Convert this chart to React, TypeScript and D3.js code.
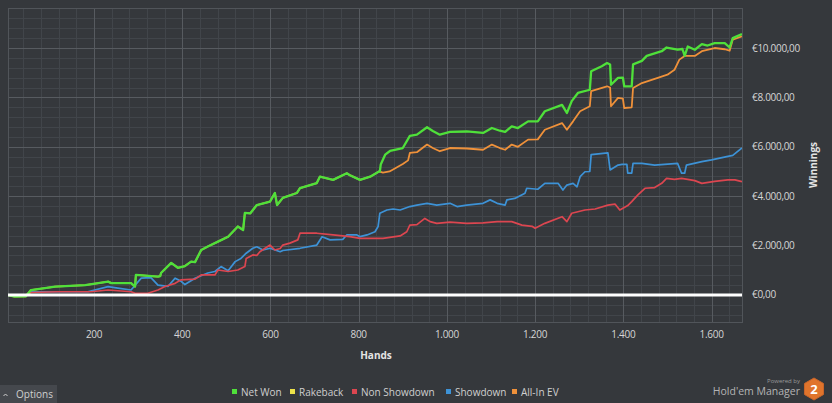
import React from "react";
import * as d3 from "d3";

type P = [number, number];

const seriesNames = ["Net Won", "Rakeback", "Non Showdown", "Showdown", "All-In EV"];
const seriesColors = ["#4fe03a", "#ece24a", "#dc4650", "#3d92d6", "#ef913a"];

const xTicks = [200, 400, 600, 800, 1000, 1200, 1400, 1600];
const yTicks = [0, 2000, 4000, 6000, 8000, 10000];

const netWon: P[] = [
  [5, 0], [20, -70], [45, -60], [57, 200], [112, 340], [180, 400], [232, 540], [239, 480], [284, 480],
  [293, 340], [295, 810], [345, 740], [350, 760], [352, 890], [375, 1300], [390, 1100], [406, 1170],
  [420, 1350], [429, 1330], [443, 1820], [458, 1960], [481, 2160], [504, 2360], [526, 2770], [538, 2630],
  [542, 3320], [554, 3300], [569, 3640], [599, 3780], [610, 4130], [615, 3640], [628, 3930], [660, 4130],
  [667, 4330], [705, 4530], [712, 4790], [742, 4660], [773, 4930], [780, 4850], [803, 4660], [826, 4790],
  [846, 5000], [848, 5000], [850, 5280], [860, 5680], [871, 5830], [900, 5950], [916, 6440], [932, 6490],
  [955, 6790], [968, 6640], [984, 6490], [1007, 6600], [1045, 6620], [1082, 6560], [1102, 6760], [1120, 6650],
  [1132, 6600], [1147, 6830], [1161, 6760], [1184, 7030], [1206, 7030], [1222, 7440], [1261, 7700],
  [1272, 7370], [1283, 7850], [1297, 8180], [1324, 8310], [1327, 9060], [1351, 9260], [1363, 9390],
  [1370, 9330], [1372, 8510], [1388, 8790], [1399, 8800], [1402, 8450], [1419, 8450], [1422, 9340],
  [1442, 9480], [1453, 9680], [1487, 9870], [1498, 10020], [1523, 9930], [1534, 9960], [1539, 9680],
  [1546, 10060], [1562, 9930], [1578, 10160], [1591, 10100], [1607, 10200], [1630, 10200], [1641, 10020],
  [1648, 10400], [1669, 10570],
];

const rakeback: P[] = [[5, 0], [1669, 0]];

const nonShowdown: P[] = [
  [5, 0], [50, 0], [57, 100], [118, 130], [193, 130], [232, 200], [284, 130], [293, 70], [322, 70],
  [345, 200], [361, 340], [384, 470], [397, 610], [429, 640], [443, 810], [474, 810], [481, 1010],
  [504, 950], [526, 1010], [542, 1150], [545, 1480], [560, 1620], [569, 1600], [576, 1750], [599, 2020],
  [610, 1820], [622, 1880], [628, 2020], [644, 2100], [662, 2230], [667, 2500], [705, 2500], [742, 2430],
  [780, 2360], [803, 2290], [855, 2290], [894, 2390], [909, 2560], [916, 2830], [932, 2850], [950, 3100],
  [962, 2970], [977, 2900], [1007, 2950], [1045, 2900], [1082, 2920], [1114, 2970], [1147, 2970],
  [1170, 2830], [1193, 2780], [1200, 2700], [1222, 2900], [1261, 3170], [1272, 2970], [1283, 3310],
  [1313, 3440], [1336, 3480], [1365, 3640], [1381, 3680], [1392, 3440], [1410, 3620], [1419, 3780],
  [1433, 4050], [1449, 4320], [1471, 4350], [1487, 4520], [1498, 4720], [1516, 4680], [1532, 4720],
  [1546, 4680], [1562, 4630], [1578, 4520], [1607, 4600], [1637, 4660], [1653, 4660], [1669, 4590],
];

const showdown: P[] = [
  [5, 0], [50, 0], [57, 130], [186, 130], [232, 340], [254, 280], [284, 200], [307, 680], [329, 700],
  [345, 400], [368, 350], [384, 680], [397, 560], [406, 420], [429, 680], [458, 890], [474, 950],
  [488, 1150], [504, 980], [520, 1350], [533, 1480], [545, 1690], [560, 1890], [569, 1950], [583, 1820],
  [599, 1890], [622, 1750], [628, 1800], [667, 1890], [705, 2020], [717, 2360], [735, 2230], [764, 2250],
  [773, 2430], [796, 2430], [803, 2360], [819, 2430], [837, 2560], [844, 2770], [848, 3310], [864, 3440],
  [878, 3480], [894, 3440], [916, 3580], [932, 3640], [955, 3710], [977, 3640], [1007, 3710], [1023, 3580],
  [1045, 3640], [1082, 3710], [1098, 3850], [1114, 3710], [1132, 3640], [1136, 3850], [1154, 3910],
  [1177, 4120], [1181, 4320], [1206, 4280], [1222, 4520], [1252, 4520], [1263, 4250], [1272, 4450],
  [1286, 4520], [1295, 4380], [1302, 4790], [1313, 4990], [1324, 5000], [1327, 5680], [1365, 5750],
  [1370, 5060], [1388, 5260], [1397, 5290], [1408, 5290], [1410, 4930], [1419, 4930], [1422, 5330],
  [1442, 5330], [1471, 5260], [1523, 5330], [1532, 4930], [1539, 4930], [1543, 5260], [1578, 5400],
  [1600, 5470], [1637, 5610], [1648, 5650], [1669, 5950],
];

const allInEV: P[] = [
  [5, 0], [20, -70], [45, -60], [57, 200], [112, 340], [180, 400], [232, 540], [239, 480], [284, 480],
  [293, 340], [295, 810], [345, 740], [350, 760], [352, 890], [375, 1300], [390, 1100], [406, 1170],
  [420, 1350], [429, 1330], [443, 1820], [458, 1960], [481, 2160], [504, 2360], [526, 2770], [538, 2630],
  [542, 3320], [554, 3300], [569, 3640], [599, 3780], [610, 4130], [615, 3640], [628, 3930], [660, 4130],
  [667, 4330], [705, 4530], [712, 4790], [742, 4660], [773, 4930], [780, 4850], [803, 4660], [826, 4790],
  [846, 5000], [855, 4950], [870, 5000], [885, 5150], [900, 5300], [912, 5450], [916, 5750], [932, 5780],
  [955, 6090], [968, 5950], [984, 5820], [1007, 5950], [1045, 5930], [1082, 5880], [1102, 6090],
  [1120, 5950], [1132, 5880], [1147, 6090], [1161, 6000], [1184, 6290], [1206, 6300], [1222, 6690],
  [1261, 6960], [1272, 6690], [1286, 7030], [1302, 7440], [1324, 7640], [1327, 8250], [1363, 8450],
  [1370, 8400], [1372, 7640], [1388, 7980], [1399, 7950], [1402, 7570], [1419, 7600], [1422, 8380],
  [1442, 8580], [1478, 8790], [1500, 8920], [1516, 9120], [1527, 9530], [1539, 9680], [1562, 9680],
  [1578, 9870], [1607, 10000], [1630, 9950], [1641, 9890], [1648, 10340], [1669, 10470],
];

const W = 832;
const H = 403;
const PL = 8, PR = 742, PT = 8, PB = 322;

const locale = d3.formatLocale({ decimal: ",", thousands: ".", grouping: [3], currency: ["€", ""] });
const fmtY = locale.format("$,.2f");
const fmtX = locale.format(",d");

export default function App() {
  const x = d3.scaleLinear().domain([5, 1669]).range([PL, PR]);
  const y = d3.scaleLinear().domain([-1095, 11620]).range([PB, PT]);
  const line = d3.line<P>().x((d) => x(d[0])).y((d) => y(d[1]));

  const xMinor = d3.range(40, 1669, 40);
  const yMinor = d3.range(-800, 11620, 400);

  const drawOrder = [
    { data: rakeback, c: seriesColors[1], w: 1.6 },
    { data: showdown, c: seriesColors[3], w: 1.7 },
    { data: nonShowdown, c: seriesColors[2], w: 1.7 },
    { data: allInEV, c: seriesColors[4], w: 1.8 },
    { data: netWon, c: seriesColors[0], w: 2.3 },
  ];

  const legendX = [232, 290, 352, 446, 512];
  const font = "'Open Sans', 'Segoe UI', sans-serif";

  const hexR = 11;
  const hexCx = 814, hexCy = 389;
  const hexPts = d3.range(6).map((i) => {
    const a = (Math.PI / 3) * i - Math.PI / 2;
    return `${hexCx + hexR * Math.cos(a)},${hexCy + hexR * Math.sin(a)}`;
  }).join(" ");

  return (
    <svg width={W} height={H} style={{ position: "absolute", left: 0, top: 0, display: "block" }} fontFamily={font}>
      <rect x={0} y={0} width={W} height={H} fill="#35383c" />
      <defs>
        <clipPath id="plotclip">
          <rect x={PL} y={PT} width={PR - PL} height={PB - PT} />
        </clipPath>
      </defs>
      {/* minor grid */}
      <g stroke="#41454a" strokeWidth={1}>
        {xMinor.map((v) => (
          <line key={"xm" + v} x1={Math.round(x(v)) + 0.5} x2={Math.round(x(v)) + 0.5} y1={PT} y2={PB} />
        ))}
        {yMinor.map((v) => (
          <line key={"ym" + v} y1={Math.round(y(v)) + 0.5} y2={Math.round(y(v)) + 0.5} x1={PL} x2={PR} />
        ))}
      </g>
      {/* major grid */}
      <g stroke="#575b60" strokeWidth={1}>
        {xTicks.map((v) => (
          <line key={"xM" + v} x1={Math.round(x(v)) + 0.5} x2={Math.round(x(v)) + 0.5} y1={PT} y2={PB} />
        ))}
        {yTicks.map((v) => (
          <line key={"yM" + v} y1={Math.round(y(v)) + 0.5} y2={Math.round(y(v)) + 0.5} x1={PL} x2={PR} />
        ))}
      </g>
      <rect x={PL + 0.5} y={PT + 0.5} width={PR - PL} height={PB - PT} fill="none" stroke="#51555a" />
      <g clipPath="url(#plotclip)">
        {drawOrder.map((s, i) => (
          <path key={i} d={line(s.data) || ""} fill="none" stroke={s.c} strokeWidth={s.w} strokeLinejoin="round" />
        ))}
        <line x1={PL} x2={PR} y1={y(0)} y2={y(0)} stroke="#ffffff" strokeWidth={3} />
      </g>
      {/* y axis labels */}
      <g fill="#d6d6d6" fontSize={10}>
        {yTicks.map((v) => (
          <text key={"yl" + v} x={752} y={y(v)} dy="0.35em" letterSpacing={-0.3}>{fmtY(v)}</text>
        ))}
      </g>
      {/* x axis labels */}
      <g fill="#d6d6d6" fontSize={10} textAnchor="middle">
        {xTicks.map((v) => (
          <text key={"xl" + v} x={x(v)} y={334} dy="0.35em" letterSpacing={-0.3}>{fmtX(v)}</text>
        ))}
      </g>
      <text x={376} y={355} dy="0.35em" textAnchor="middle" fill="#e4e4e4" fontSize={10} fontWeight="bold">Hands</text>
      <text transform={`translate(813,165) rotate(-90)`} dy="0.35em" textAnchor="middle" fill="#e4e4e4" fontSize={10} fontWeight="bold">Winnings</text>
      {/* legend */}
      <g fontSize={10} fill="#cfcfcf">
        {seriesNames.map((n, i) => (
          <g key={n}>
            <rect x={legendX[i]} y={389} width={5} height={5} fill={seriesColors[i]} />
            <text x={legendX[i] + 9} y={392} dy="0.35em">{n}</text>
          </g>
        ))}
      </g>
      {/* options button */}
      <rect x={0} y={385} width={57} height={18} fill="#45484d" />
      <path d="M3.5,396 L5.5,394 L7.5,396" fill="none" stroke="#cfcfcf" strokeWidth={1} />
      <text x={16} y={394.5} dy="0.35em" fontSize={10} fill="#cfcfcf">Options</text>
      {/* branding */}
      <text x={800} y={381} dy="0.35em" textAnchor="end" fontSize={6} fill="#9a9a9a">Powered by</text>
      <text x={800} y={391} dy="0.35em" textAnchor="end" fontSize={10.5} fill="#b4b4b4">Hold'em Manager</text>
      <polygon points={hexPts} fill="#e0742c" stroke="#c9652a" strokeWidth={1} strokeLinejoin="round" />
      <text x={hexCx} y={hexCy + 0.5} dy="0.35em" textAnchor="middle" fontSize={13} fontWeight="bold" fill="#ffffff">2</text>
    </svg>
  );
}
